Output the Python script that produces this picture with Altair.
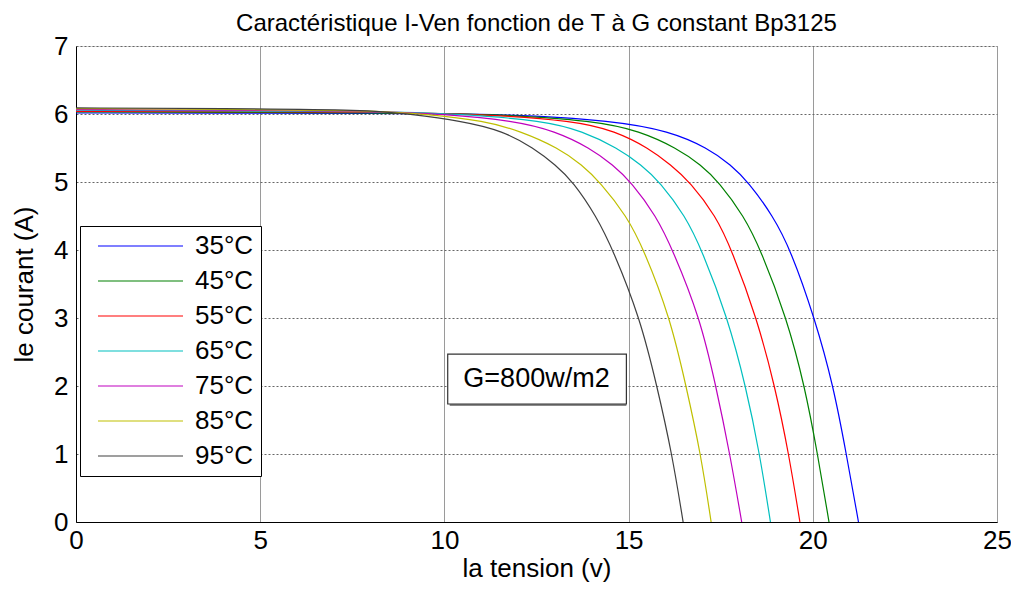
import altair as alt
import pandas as pd

# ---------------- data ----------------
temps = ["35°C", "45°C", "55°C", "65°C", "75°C", "85°C", "95°C"]
colors = ["#0000FF", "#008000", "#FF0000", "#00BFBF", "#BF00BF", "#BFBF00", "#404040"]

v35 = [0, 4, 8, 11.8, 14.6, 16.1, 17.15, 17.78, 18.25, 18.92, 19.4, 20.05, 20.56, 20.91, 21.24]
i35 = [6.015, 6.012, 6.01, 6.0, 5.9, 5.75, 5.5, 5.25, 5.0, 4.5, 4.0, 3.0, 2.0, 1.0, 0.0]

v45 = [0, 4, 8, 11.4, 14.1, 15.3, 16.3, 16.97, 17.45, 18.13, 18.59, 19.29, 19.78, 20.13, 20.44]
i45 = [6.03, 6.025, 6.02, 6.0, 5.9, 5.75, 5.5, 5.25, 5.0, 4.5, 4.0, 3.0, 2.0, 1.0, 0.0]

v55 = [0, 4, 8, 11.0, 13.55, 14.63, 15.54, 16.15, 16.67, 17.37, 17.8, 18.48, 18.97, 19.35, 19.65]
i55 = [6.04, 6.035, 6.03, 6.0, 5.9, 5.75, 5.5, 5.25, 5.0, 4.5, 4.0, 3.0, 2.0, 1.0, 0.0]

v65 = [0, 4, 8, 10.5, 12.7, 13.74, 14.7, 15.35, 15.85, 16.54, 16.99, 17.69, 18.18, 18.56, 18.85]
i65 = [6.055, 6.045, 6.04, 6.0, 5.9, 5.75, 5.5, 5.25, 5.0, 4.5, 4.0, 3.0, 2.0, 1.0, 0.0]

v75 = [0, 4, 8, 10.0, 11.9, 13.0, 13.95, 14.58, 15.07, 15.75, 16.2, 16.94, 17.37, 17.75, 18.07]
i75 = [6.065, 6.055, 6.045, 6.0, 5.9, 5.75, 5.5, 5.25, 5.0, 4.5, 4.0, 3.0, 2.0, 1.0, 0.0]

v85 = [0, 4, 8, 9.5, 11.1, 12.05, 13.1, 13.74, 14.22, 14.95, 15.42, 16.13, 16.56, 16.96, 17.24]
i85 = [6.08, 6.07, 6.05, 6.0, 5.9, 5.75, 5.5, 5.25, 5.0, 4.5, 4.0, 3.0, 2.0, 1.0, 0.0]

v95 = [0, 4, 8, 9.0, 10.45, 11.6, 12.42, 13.02, 13.5, 14.12, 14.58, 15.31, 15.77, 16.18, 16.48]
i95 = [6.09, 6.08, 6.06, 6.0, 5.9, 5.75, 5.5, 5.25, 5.0, 4.5, 4.0, 3.0, 2.0, 1.0, 0.0]

x_ticks = [0, 5, 10, 15, 20, 25]
y_ticks = [0, 1, 2, 3, 4, 5, 6, 7]

note_text = ["G=800w/m2"]
note_v = [12.5]
note_i = [2.11]
note_box_v = [10.09, 14.94]
note_box_i = [1.735, 2.47]

title_text = "Caractéristique I-Ven fonction de T à G constant Bp3125"
FONT = "Liberation Sans"

# ---------------- build tables ----------------
series = [(temps[0], v35, i35), (temps[1], v45, i45), (temps[2], v55, i55),
          (temps[3], v65, i65), (temps[4], v75, i75), (temps[5], v85, i85),
          (temps[6], v95, i95)]
rows = []
for name, vs, cs in series:
    for k, (v, c) in enumerate(zip(vs, cs)):
        rows.append({"T": name, "V": v, "I": c, "k": k})
df = pd.DataFrame(rows)

box_df = pd.DataFrame({"v1": [note_box_v[0]], "v2": [note_box_v[1]],
                       "i1": [note_box_i[0]], "i2": [note_box_i[1]]})
note_df = pd.DataFrame({"V": note_v, "I": note_i, "txt": note_text})

xscale = alt.Scale(domain=[0, 25], nice=False, zero=False)
yscale = alt.Scale(domain=[0, 7], nice=False, zero=False)

x_axis = alt.Axis(values=x_ticks, format="d", title="la tension (v)", labelFontSize=26, titleFontSize=26,
                  labelFont=FONT, titleFont=FONT, labelPadding=5, titlePadding=2,
                  grid=True, gridColor="#9a9a9a", gridWidth=1, ticks=False,
                  domainColor="black", labelColor="black", titleColor="black",
                  titleFontWeight="normal", labelFlush=False)
y_axis = alt.Axis(values=y_ticks, format="d", title="le courant (A)", labelFontSize=26, titleFontSize=26,
                  labelFont=FONT, titleFont=FONT, labelPadding=8, titlePadding=16,
                  grid=True, gridColor="#666666", gridDash=[2, 2], gridWidth=1, ticks=False,
                  domainColor="black", labelColor="black", titleColor="black",
                  titleFontWeight="normal", labelFlush=False)

lines = alt.Chart(df).mark_line(strokeWidth=1.2, clip=True, interpolate="basis").encode(
    x=alt.X("V:Q", scale=xscale, axis=x_axis),
    y=alt.Y("I:Q", scale=yscale, axis=y_axis),
    order=alt.Order("k:Q"),
    color=alt.Color("T:N", scale=alt.Scale(domain=temps, range=colors),
                    sort=temps,
                    legend=alt.Legend(orient="none", legendX=4, legendY=180,
                                      title=None, symbolType="stroke", symbolSize=7225,
                                      symbolStrokeWidth=1.2, clipHeight=26,
                                      labelFontSize=26, labelFont=FONT, labelColor="black",
                                      rowPadding=9, padding=7, symbolOffset=10, labelOffset=11,
                                      strokeColor="black", fillColor="white",
                                      labelLimit=300)),
)

shadow = alt.Chart(box_df).mark_rect(fill="#8a8a8a", xOffset=2, yOffset=2).encode(
    x="v1:Q", x2="v2:Q", y="i1:Q", y2="i2:Q")
box = alt.Chart(box_df).mark_rect(fill="white", stroke="#333333", strokeWidth=1.2).encode(
    x="v1:Q", x2="v2:Q", y="i1:Q", y2="i2:Q")
note = alt.Chart(note_df).mark_text(fontSize=27, font=FONT, color="black",
                                    align="center", baseline="middle").encode(
    x="V:Q", y="I:Q", text="txt:N")

chart = alt.layer(lines, shadow, box, note).properties(
    width=921, height=476,
    autosize=alt.AutoSizeParams(type="none"),
    padding={"left": 68, "top": 38, "right": 14, "bottom": 60},
    title=alt.Title(title_text, fontSize=24, font=FONT, fontWeight="normal",
                    color="black", anchor="middle", offset=-3, frame="group"),
).configure_view(stroke="black", strokeWidth=1).configure(background="white")

chart.save("out.html", embed_options={"renderer": "svg", "actions": False})
